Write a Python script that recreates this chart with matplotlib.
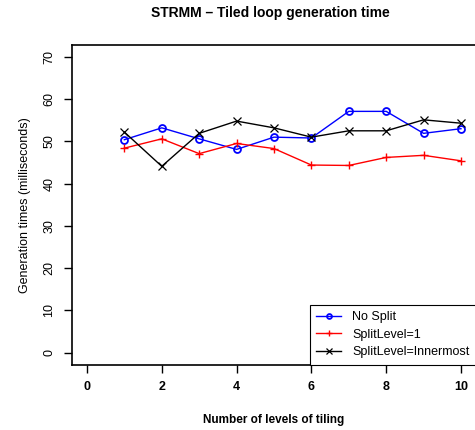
import numpy as np
import matplotlib.pyplot as plt

plt.rcParams['font.family'] = ['Liberation Sans', 'DejaVu Sans']

levels = [1, 2, 3, 4, 5, 6, 7, 8, 9, 10]
no_split = [50.4, 53.2, 50.6, 48.1, 51.0, 50.8, 57.1, 57.1, 51.9, 53.0]
split_1 = [48.4, 50.6, 47.1, 49.5, 48.3, 44.4, 44.3, 46.2, 46.7, 45.4]
split_inner = [52.2, 44.1, 51.9, 54.8, 53.2, 51.0, 52.5, 52.5, 55.1, 54.3]

series_names = ["No Split", "SplitLevel=1", "SplitLevel=Innermost"]
xticks = [0, 2, 4, 6, 8, 10]
yticks = [0, 10, 20, 30, 40, 50, 60, 70]

fig = plt.figure(figsize=(4.75, 4.3), dpi=100)
ax = fig.add_axes([0.1516, 0.1523, 0.8484 + 0.002, 0.743])

ax.plot(levels, no_split, color='blue', lw=1, marker='o', ms=5,
        mfc='none', mew=1.3, label=series_names[0])
ax.plot(levels, split_1, color='red', lw=1, marker='+', ms=6,
        mew=1.0, label=series_names[1])
ax.plot(levels, split_inner, color='black', lw=1, marker='x', ms=6,
        mew=0.9, label=series_names[2])

ax.set_xlim(-0.4, 10.4)
ax.set_ylim(-2.8, 72.8)
ax.set_xticks(xticks)
ax.set_yticks(yticks)
ax.set_xticklabels([str(t) for t in xticks], fontweight='bold', fontsize=9)
ax.set_yticklabels([str(t) for t in yticks], rotation=90, va='center', fontsize=9)
ax.tick_params(direction='out', length=6, width=1, pad=6)

for s in ax.spines.values():
    s.set_linewidth(1.2)

# title a touch left of the axes centre, as in the reference
ax.set_title("STRMM \u2013 Tiled loop generation time", fontweight='bold',
             fontsize=10, pad=20, x=0.49)
ax.set_xlabel("Number of levels of tiling", fontweight='bold', fontsize=8.5,
              labelpad=15)
ax.set_ylabel("Generation times (milliseconds)", fontsize=9, labelpad=9)

leg = ax.legend(loc='lower right', fontsize=9, fancybox=False, framealpha=1,
                edgecolor='black', borderpad=0.5, handlelength=2.0,
                handletextpad=0.9, labelspacing=0.45, borderaxespad=0,
                markerscale=0.7)
leg.get_frame().set_linewidth(0.8)

fig.savefig("out.png", dpi=100)
